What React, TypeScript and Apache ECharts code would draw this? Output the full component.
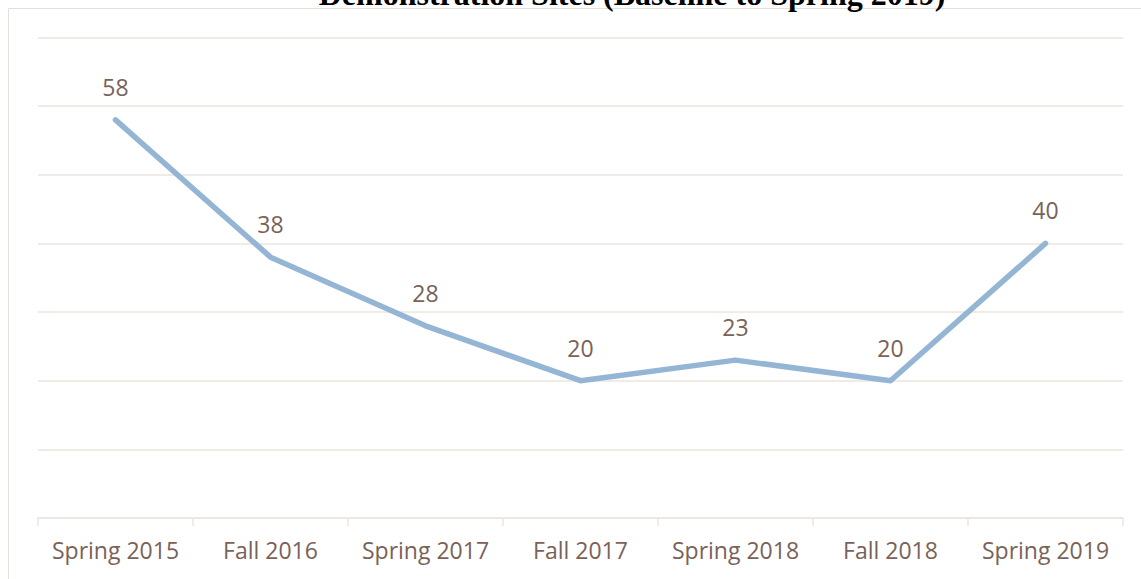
import React, { useEffect, useRef } from "react";
import * as echarts from "echarts";

const TITLE = "Demonstration Sites (Baseline to Spring 2019)";
const categories = ["Spring 2015", "Fall 2016", "Spring 2017", "Fall 2017", "Spring 2018", "Fall 2018", "Spring 2019"];
const values = [58, 38, 28, 20, 23, 20, 40];
const yMin = 0;
const yMax = 70;
const yInterval = 10;

const textColor = "#7a6258";
const lineColor = "#94b6d4";
const gridColor = "#ece5e1";

export default function App() {
  const ref = useRef<HTMLDivElement>(null);
  useEffect(() => {
    if (!ref.current) return;
    const chart = echarts.init(ref.current, null, { renderer: "svg" });
    chart.setOption({
      animation: false,
      backgroundColor: "#ffffff",
      grid: { left: 38, right: 18, top: 37.5, bottom: 61, containLabel: false },
      graphic: [
        {
          type: "rect",
          shape: { x: 8.5, y: 8.5, width: 1150, height: 600 },
          style: { fill: "none", stroke: "#e6e0dc", lineWidth: 1 },
          silent: true,
        },
        {
          type: "text",
          x: 632,
          y: 10,
          style: {
            text: TITLE,
            fill: "#000000",
            font: "bold 32px 'Liberation Serif', 'Times New Roman', serif",
            align: "center",
            verticalAlign: "bottom",
          },
        },
      ],
      xAxis: {
        type: "category",
        data: categories,
        boundaryGap: true,
        axisLine: { show: true, lineStyle: { color: gridColor, width: 1.5 } },
        axisTick: { show: true, interval: 0, alignWithLabel: false, length: 8, lineStyle: { color: gridColor, width: 1.5 } },
        axisLabel: { interval: 0, color: textColor, fontSize: 23, fontFamily: "'Open Sans', sans-serif", margin: 20 },
      },
      yAxis: {
        type: "value",
        min: yMin,
        max: yMax,
        interval: yInterval,
        axisLine: { show: false },
        axisTick: { show: false },
        axisLabel: { show: false },
        splitLine: { show: true, lineStyle: { color: gridColor, width: 1.5 } },
      },
      series: [
        {
          type: "line",
          data: values,
          symbol: "circle",
          symbolSize: 1,
          showSymbol: true,
          itemStyle: { color: lineColor },
          lineStyle: { color: lineColor, width: 5.5, cap: "round", join: "round" },
          label: {
            show: true,
            position: "top",
            distance: 21,
            color: textColor,
            fontSize: 23,
            fontFamily: "'Open Sans', sans-serif",
          },
        },
      ],
    });
    return () => chart.dispose();
  }, []);
  return <div ref={ref} style={{ position: "fixed", left: 0, top: 0, width: 1141, height: 579 }} />;
}
